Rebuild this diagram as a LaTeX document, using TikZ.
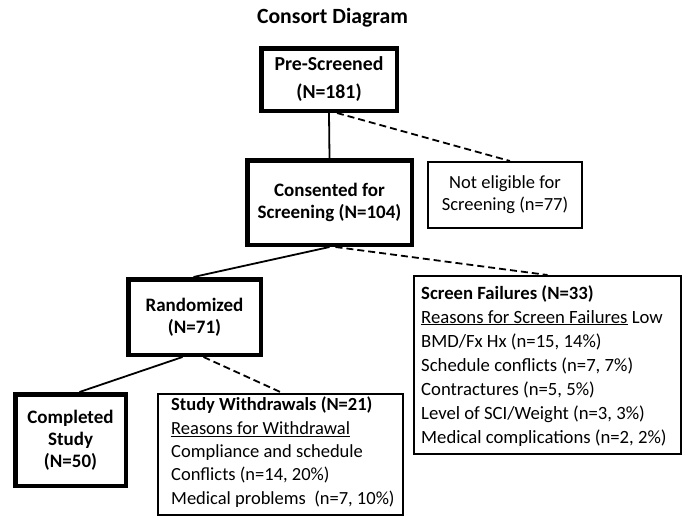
\documentclass[tikz,border=0pt]{standalone}
\usepackage{fontspec}
\setmainfont{Carlito}
\usetikzlibrary{calc}
\begin{document}
\begin{tikzpicture}[x=1pt,y=-1pt]
\tikzset{
  thickbox/.style={draw, line width=4.5pt, font=\fontsize{19}{22}\selectfont\bfseries, align=center, inner sep=0pt},
  thinbox/.style={draw, line width=1.6pt, font=\fontsize{18.5}{22}\selectfont, inner sep=0pt},
  txt/.style={inner sep=0pt, anchor=north west, align=left},
  link/.style={line width=1.8pt},
  dlink/.style={line width=1.8pt, dash pattern=on 7pt off 4pt},
}
\clip (0,0) rectangle (683,517);
\node[font=\fontsize{21.7}{26}\selectfont\bfseries] (title) at (332.5,18) {Consort Diagram};
\node[thickbox, minimum width=135.5pt, minimum height=62.5pt, font=\fontsize{19.8}{22}\selectfont\bfseries] (pre) at (329,79.5) {Pre-Screened\\[6pt](N=181)};
\node[thickbox, minimum width=164.5pt, minimum height=84.5pt] (cons) at (329.5,202.5) {Consented for\\Screening (N=104)};
\node[thinbox, align=center, minimum width=154.4pt, minimum height=66.4pt] (ne) at (505,195) {Not eligible for\\Screening (n=77)};
\node[thickbox, minimum width=132.5pt, minimum height=75.5pt] (rand) at (194.5,317) {Randomized\\(N=71)};
\node[thinbox, minimum width=267.4pt, minimum height=178.4pt] (sf) at (547.5,365) {};
\node[txt, font=\fontsize{18.7}{24}\selectfont] (sftext) at ($(sf.center)+(-126.5,-80)$)
  {\textbf{Screen Failures (N=33)}\\
   \underline{Reasons for Screen Failures} Low\\
   BMD/Fx Hx (n=15, 14\%)\\
   Schedule conflicts (n=7, 7\%)\\
   Contractures (n=5, 5\%)\\
   Level of SCI/Weight (n=3, 3\%)\\
   Medical complications (n=2, 2\%)};
\node[thickbox, minimum width=110.5pt, minimum height=91.5pt] (comp) at (70.5,440) {Completed\\Study\\(N=50)};
\node[thinbox, minimum width=245.4pt, minimum height=121.4pt] (sw) at (280.5,454.5) {};
\node[txt, font=\fontsize{18.5}{23.3}\selectfont] (swtext) at ($(sw.center)+(-109.5,-57.5)$)
  {\textbf{Study Withdrawals (N=21)}\\
   \underline{Reasons for Withdrawal}\\
   Compliance and schedule\\
   Conflicts (n=14, 20\%)\\
   Medical problems\ \ (n=7, 10\%)};
\draw[link] (pre.south) -- (cons.north);
\draw[dlink] ($(pre.south)+(8,0)$) -- ($(ne.north)+(5,0)$);
\draw[link] (cons.south) -- ($(rand.north)+(-1,0)$);
\draw[dlink] ($(cons.south)+(6,0)$) -- (sf.north);
\draw[link] ($(rand.south)+(-12,0)$) -- ($(comp.north)+(9,0)$);
\draw[dlink] ($(rand.south)+(9,0)$) -- ($(sw.north)+(2,0)$);
\end{tikzpicture}
\end{document}
